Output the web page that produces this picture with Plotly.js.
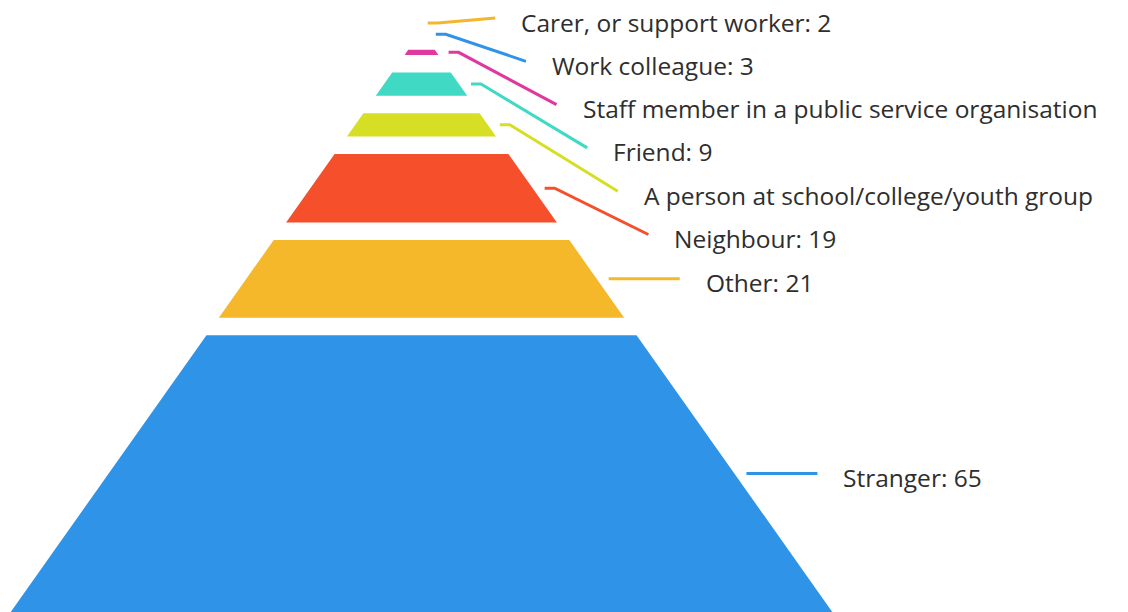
<!DOCTYPE html>
<html><head><meta charset="utf-8">
<script src="https://cdn.plot.ly/plotly-3.0.1.min.js"></script>
<style>html,body{margin:0;padding:0;background:#fff;overflow:hidden}#chart{width:1128px;height:612px}</style>
</head><body><div id="chart"></div>
<script>
// ---- data (top of pyramid to bottom) ----
const categories = [
  "Carer, or support worker",
  "Work colleague",
  "Staff member in a public service organisation",
  "Friend",
  "A person at school/college/youth group",
  "Neighbour",
  "Other",
  "Stranger"
];
const values = [2, 3, 5, 9, 9, 19, 21, 65];
const colors = ["#f5b52c", "#2f93e8", "#e0389e", "#3fd9c4", "#d6df24", "#f64f2c", "#f5b82b", "#2f93e8"];

// ---- layout constants ----
const W = 1128, H = 612;
const K = 4.53;                 // pixels per value unit (both axes)
const originX = 421.5, originY = 9.6;
const px = p => p / K;
const total = values.reduce((a, b) => a + b, 0);
const apex = px(31 - originY);  // where the pyramid sides meet
const slope = 0.707;            // half-width per unit of height
const gap = px(17.5);
const hw = c => slope * (c - apex);
const maxLabelChars = 40;
const labelStep = px(43.3);
const labelTop = px(18 - originY);

const traces = [];
const annotations = [];
let cum = 0;
const mids = [];
values.forEach((v, i) => {
  const c0 = cum, c1 = cum + v;
  cum = c1;
  const top = c0 + gap, bot = c1;
  if (bot > top) {
    traces.push({
      type: "scatter", mode: "lines", fill: "toself",
      x: [-hw(top), hw(top), hw(bot), -hw(bot), -hw(top)],
      y: [top, top, bot, bot, top],
      fillcolor: colors[i], line: {width: 0, color: colors[i]},
      hoverinfo: "text", text: categories[i] + ": " + v, showlegend: false
    });
  }
  mids.push((top + bot) / 2);
});

// arrange labels: bottom-up then top-down
const ly = mids.slice();
for (let i = ly.length - 2; i >= 0; i--) {
  if (ly[i] + labelStep > ly[i + 1]) ly[i] = ly[i + 1] - labelStep;
}
let last = labelTop;
for (let i = 0; i < ly.length; i++) {
  if (ly[i] < last) ly[i] = last;
  last = ly[i] + labelStep;
}

values.forEach((v, i) => {
  const sx = hw(mids[i]) + px(12);
  const ex = hw(ly[i]) + px(83);
  const bent = Math.abs(ly[i] - mids[i]) > 0.05;
  const xs = bent ? [sx, sx + px(10), ex] : [sx, ex];
  const ys = bent ? [mids[i], mids[i], ly[i]] : [mids[i], mids[i]];
  traces.push({
    type: "scatter", mode: "lines", x: xs, y: ys,
    line: {color: colors[i], width: 3}, hoverinfo: "skip", showlegend: false
  });
  let txt = categories[i] + ": " + v;
  if (txt.length > maxLabelChars) txt = categories[i];
  annotations.push({
    x: ex + px(24), y: ys[ys.length - 1] + px(4), xref: "x", yref: "y",
    text: txt, showarrow: false, xanchor: "left", yanchor: "middle",
    font: {family: "Open Sans, sans-serif", size: 24.5, weight: 500, color: "#2e2e2e"}
  });
});

const layout = {
  width: W, height: H,
  margin: {l: 0, r: 0, t: 0, b: 0},
  paper_bgcolor: "#ffffff", plot_bgcolor: "#ffffff",
  xaxis: {range: [px(-originX), px(W - originX)], visible: false, fixedrange: true},
  yaxis: {range: [px(H - originY), px(-originY)], visible: false, fixedrange: true},
  annotations: annotations,
  showlegend: false
};
Plotly.newPlot("chart", traces, layout, {displayModeBar: false, staticPlot: true});
</script>
</body></html>
